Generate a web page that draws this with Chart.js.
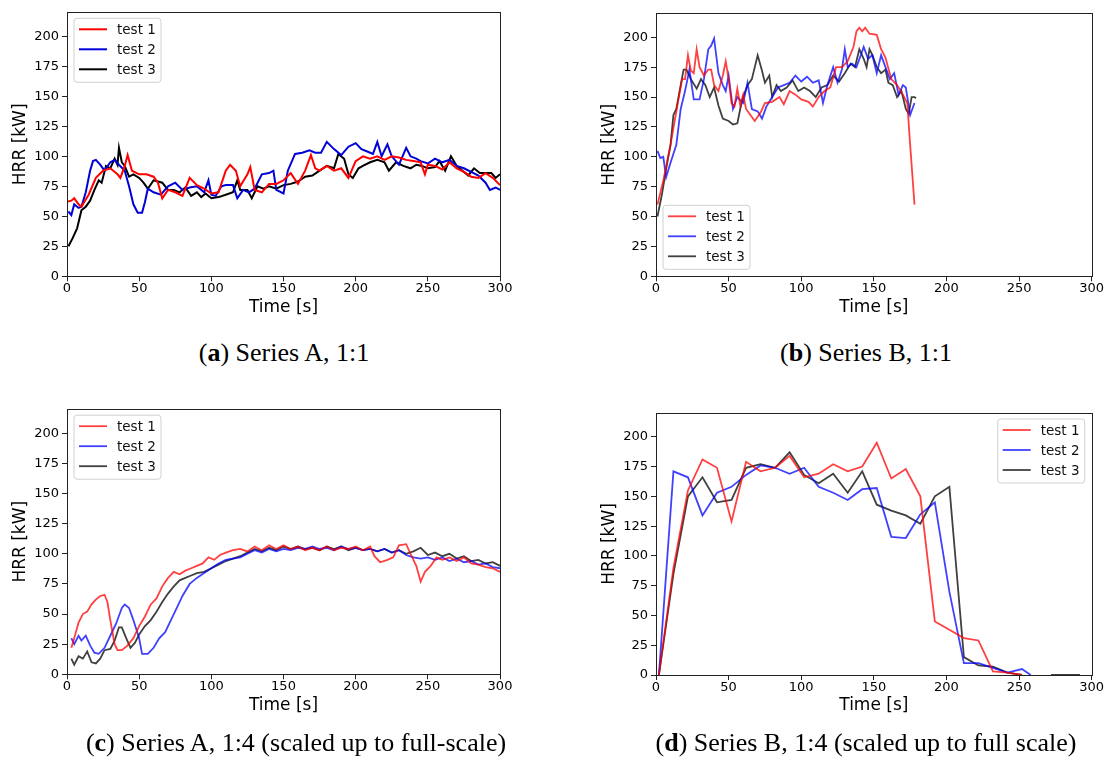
<!DOCTYPE html>
<html>
<head>
<meta charset="utf-8">
<script src="https://cdn.jsdelivr.net/npm/chart.js@4.4.0/dist/chart.umd.min.js"></script>
<style>
  html, body { margin:0; padding:0; background:#fff; }
  body { width:1107px; height:769px; position:relative; overflow:hidden; }
  canvas { position:absolute; }
  .cap { position:absolute; width:600px; text-align:center; font-family:'Liberation Serif', serif; font-size:26px; line-height:30px; color:#000; white-space:nowrap; }
</style>
</head>
<body>
<canvas id="ca" width="520" height="330" style="left:0px;top:0px"></canvas>
<canvas id="cb" width="520" height="330" style="left:589px;top:0px"></canvas>
<canvas id="cc" width="520" height="330" style="left:0px;top:398px"></canvas>
<canvas id="cd" width="520" height="330" style="left:589px;top:399px"></canvas>
<div class="cap" style="left:-16px;top:338px">(<b>a</b>) Series A, 1:1</div>
<div class="cap" style="left:566px;top:338px">(<b>b</b>) Series B, 1:1</div>
<div class="cap" style="left:-4px;top:728px">(<b>c</b>) Series A, 1:4 (scaled up to full-scale)</div>
<div class="cap" style="left:566px;top:728px">(<b>d</b>) Series B, 1:4 (scaled up to full scale)</div>
<script>
// ---------- DATA ----------
const seriesLabels = ['test 1', 'test 2', 'test 3'];
const xTicks = [0, 50, 100, 150, 200, 250, 300];
const yTicks = [0, 25, 50, 75, 100, 125, 150, 175, 200];

// (a) Series A, 1:1
const aT1 = [0,3,5,8,10,15,20,25,30,35,37,40,42,45,50,55,60,63,66,70,75,80,85,90,95,100,105,110,113,117,120,125,127,130,135,140,145,150,155,160,165,169,172,175,180,185,190,195,200,205,210,215,220,225,230,235,240,245,248,250,255,260,265,270,275,280,285,290,295,300];
const aY1 = [62,63,65,60,58,68,82,88,90,85,82,92,101,88,85,85,83,78,65,72,70,67,82,76,73,69,70,88,93,88,75,85,91,72,70,77,77,80,86,77,88,101,90,88,92,88,90,82,96,100,98,100,97,100,99,97,96,95,85,93,92,89,95,90,87,83,82,86,82,76];
const aT2 = [1,3,5,8,10,13,16,18,20,23,26,30,33,36,40,43,46,49,52,54,56,60,65,70,75,80,85,90,95,98,100,103,107,110,115,118,122,126,130,135,140,143,145,150,153,158,163,168,172,176,180,185,190,195,200,204,208,212,215,218,222,225,230,235,238,242,245,250,255,260,265,270,275,280,285,290,293,297,300];
const aY2 = [54,51,60,57,58,70,88,96,97,93,88,95,97,93,88,75,60,53,53,62,73,70,68,75,78,72,74,75,70,80,68,67,75,76,76,65,72,70,73,85,86,88,72,69,88,102,103,105,103,103,112,106,101,108,111,106,104,102,112,100,110,100,93,107,100,98,96,94,98,95,97,92,90,87,84,78,72,74,72];
const aT3 = [1,4,7,10,13,16,19,22,24,27,30,33,35,36,38,40,43,46,50,53,56,60,63,66,70,74,78,82,86,90,93,96,100,105,110,115,118,120,125,128,132,136,140,145,150,155,160,165,170,175,180,185,188,192,195,198,202,205,210,215,220,223,228,233,238,242,246,250,255,258,262,266,270,274,278,282,286,290,294,297,300];
const aY3 = [25,32,40,55,58,63,72,80,78,92,90,98,93,107,95,92,83,85,82,78,73,80,79,78,72,72,70,74,67,70,66,69,65,66,68,70,80,72,72,65,75,73,75,73,76,77,79,83,84,88,92,90,102,98,85,82,90,92,95,97,95,88,95,92,90,93,92,90,91,96,88,100,92,88,84,90,86,86,86,82,85];

// (b) Series B, 1:1
const bT1 = [1,5,10,15,18,20,22,24,26,28,30,33,36,38,40,43,46,48,50,52,54,56,58,60,62,65,68,72,75,80,85,88,92,96,100,105,108,112,116,120,124,128,132,136,138,140,142,144,147,152,155,158,162,166,170,173,175,178];
const bY1 = [60,80,110,145,165,165,185,172,170,190,175,168,173,173,160,155,168,180,165,145,142,157,143,152,140,135,130,137,145,146,150,144,155,152,148,146,142,150,155,158,175,175,180,192,205,208,205,208,203,202,190,183,165,160,152,145,110,60];
const bT2 = [1,3,5,7,10,14,17,20,23,26,30,33,36,38,40,43,46,48,50,53,56,60,63,66,70,73,76,80,84,88,92,96,100,104,108,112,115,118,122,125,128,130,132,135,138,141,143,146,149,152,155,158,161,164,167,170,172,175,178];
const bY2 = [105,99,100,83,95,110,140,155,173,148,148,165,190,193,199,170,160,155,168,140,150,145,162,140,138,132,142,150,158,160,162,168,163,167,162,164,145,160,175,162,173,190,175,178,175,185,192,182,185,170,185,175,165,170,152,160,158,135,145];
const bT3 = [1,4,7,10,12,14,17,19,21,24,28,31,34,37,40,43,46,50,53,56,58,60,63,66,70,73,75,78,80,83,86,90,94,98,102,106,110,114,118,122,126,130,134,137,140,143,145,147,149,152,155,158,160,163,166,169,172,174,176,178,179];
const bY3 = [50,68,90,110,135,140,160,173,173,165,157,165,160,150,158,143,132,130,127,128,140,150,160,165,185,172,162,168,150,160,155,158,164,155,158,155,150,158,160,168,163,170,178,175,190,182,175,190,185,175,170,173,162,160,150,155,140,136,150,150,149];

// (c) Series A, 1:4
const cT1 = [3,5,8,11,14,17,20,23,26,28,30,33,35,38,42,46,50,54,58,62,66,70,74,78,82,86,90,94,98,102,106,110,115,120,125,130,135,140,145,150,155,160,165,170,175,180,185,190,195,200,205,210,213,217,222,226,230,235,238,242,245,248,252,256,260,265,270,275,280,285,290,295,300];
const cY1 = [22,30,43,50,52,58,62,65,66,60,45,25,20,20,24,30,40,48,58,63,73,80,85,83,86,88,90,92,97,95,99,101,103,104,102,106,103,107,104,107,104,106,103,105,103,106,103,105,104,106,103,106,98,93,95,97,107,108,100,90,77,85,90,97,95,97,94,97,92,91,89,88,85];
const cT2 = [3,5,8,10,13,16,19,22,26,30,34,38,40,43,46,50,52,56,60,64,68,72,76,80,85,90,95,100,105,110,115,120,125,130,135,140,145,150,155,160,165,170,175,180,185,190,195,200,205,210,215,220,225,230,235,240,245,250,255,260,265,270,275,280,285,290,295,300];
const cY2 = [30,25,32,28,32,24,18,17,22,32,42,55,58,55,45,30,17,17,22,30,35,45,55,65,75,80,84,88,92,95,96,97,100,103,101,104,102,104,103,105,104,106,104,105,103,106,104,105,103,104,102,104,101,103,99,97,96,97,95,97,94,96,93,94,91,92,89,88];
const cT3 = [3,5,8,11,14,17,20,23,26,30,33,36,38,41,44,47,50,54,58,62,66,70,74,78,82,86,90,95,100,105,110,115,120,125,130,135,140,145,150,155,160,165,170,175,180,185,190,195,200,205,210,215,220,225,230,235,240,245,250,255,260,265,270,275,280,285,290,295,300];
const cY3 = [13,8,15,13,19,10,9,13,20,21,28,39,39,30,22,26,33,40,45,52,60,67,73,78,80,82,84,85,88,91,94,96,98,101,104,102,105,103,106,104,106,104,105,103,106,104,106,103,105,103,104,102,104,101,103,100,102,105,99,101,98,100,96,98,94,95,92,93,90];

// (d) Series B, 1:4
const dT1 = [2,12,22,32,42,52,62,72,82,92,102,112,122,132,142,152,162,172,182,192,202,212,222,232,242,252];
const dY1 = [0,90,155,181,174,129,179,171,174,184,166,169,177,171,175,195,165,173,150,45,38,31,29,3,2,0];
const dT2 = [2,12,22,32,42,52,62,72,82,92,102,112,122,132,142,152,162,172,182,192,202,212,222,232,242,252,258];
const dY2 = [0,171,166,134,153,158,168,176,174,169,174,158,153,147,156,157,116,115,135,145,70,10,10,6,2,5,0];
const dT3 = [2,12,22,32,42,52,62,72,82,92,102,112,122,132,142,152,162,172,182,192,202,212,222,232,242,252,262,272,282,292];
const dY3 = [0,85,150,166,145,147,174,177,174,187,168,161,169,153,171,143,138,134,127,150,158,15,8,7,2,0,null,0,0,0];

// ---------- STYLE / RENDER ----------
Chart.defaults.font.family = "'DejaVu Sans', sans-serif";
Chart.defaults.color = '#000';

const framePlugin = {
  id: 'frame',
  afterDatasetsDraw(chart) {
    const {ctx, chartArea: a} = chart;
    ctx.save();
    ctx.strokeStyle = '#222';
    ctx.lineWidth = 1;
    ctx.strokeRect(Math.round(a.left) + 0.5, Math.round(a.top) + 0.5,
                   Math.round(a.right - a.left), Math.round(a.bottom - a.top));
    ctx.restore();
  }
};

const legendPlugin = {
  id: 'innerLegend',
  afterDraw(chart, args, opts) {
    const {ctx, chartArea: a} = chart;
    const w = 87, h = 64, r = 3;
    const x = opts.pos.includes('l') ? a.left + 7 : a.right - 7 - w;
    const y = opts.pos.includes('u') ? a.top + 6 : a.bottom - 7 - h;
    ctx.save();
    ctx.beginPath();
    ctx.moveTo(x + r, y);
    ctx.arcTo(x + w, y, x + w, y + h, r);
    ctx.arcTo(x + w, y + h, x, y + h, r);
    ctx.arcTo(x, y + h, x, y, r);
    ctx.arcTo(x, y, x + w, y, r);
    ctx.closePath();
    ctx.fillStyle = 'rgba(255,255,255,0.85)';
    ctx.fill();
    ctx.strokeStyle = '#d0d0d0';
    ctx.lineWidth = 1;
    ctx.stroke();
    ctx.font = "13.5px 'DejaVu Sans'";
    ctx.textBaseline = 'middle';
    ctx.textAlign = 'left';
    chart.data.datasets.forEach((ds, i) => {
      const ly = y + 11 + i * 20;
      ctx.beginPath();
      ctx.moveTo(x + 5, ly);
      ctx.lineTo(x + 33, ly);
      ctx.strokeStyle = ds.borderColor;
      ctx.lineWidth = ds.borderWidth;
      ctx.stroke();
      ctx.fillStyle = '#111';
      ctx.fillText(ds.label, x + 43, ly + 1);
    });
    ctx.restore();
  }
};

function pts(T, Y) { return T.map((t, i) => ({x: t, y: Y[i]})); }

function makeChart(id, series, colors, lw, cfg) {
  new Chart(document.getElementById(id), {
    type: 'line',
    data: {
      datasets: series.map((s, i) => ({
        label: seriesLabels[i],
        data: pts(s[0], s[1]),
        borderColor: colors[i],
        backgroundColor: colors[i],
        borderWidth: lw,
        pointRadius: 0,
        tension: 0,
        spanGaps: false,
        fill: false
      }))
    },
    options: {
      responsive: false,
      animation: false,
      events: [],
      layout: { padding: { left: 0, top: cfg.top, right: cfg.right, bottom: 330 - 41 - cfg.bottom } },
      plugins: {
        legend: { display: false },
        tooltip: { enabled: false },
        innerLegend: { pos: cfg.legend }
      },
      scales: {
        x: {
          type: 'linear', min: 0, max: 300,
          afterBuildTicks: s => { s.ticks = xTicks.map(v => ({value: v})); },
          ticks: { font: { size: 13 }, padding: 0, maxRotation: 0, color: '#000' },
          grid: { drawOnChartArea: false, tickLength: 5, color: '#222' },
          border: { display: false },
          title: { display: true, text: 'Time [s]', font: { size: 17 }, color: '#000', padding: { top: 0, bottom: 0 } },
          afterFit: s => { s.height = 41; }
        },
        y: {
          type: 'linear', min: 0, max: 220,
          afterBuildTicks: s => { s.ticks = yTicks.map(v => ({value: v})); },
          ticks: { font: { size: 13 }, padding: 3, color: '#000' },
          grid: { drawOnChartArea: false, tickLength: 5, color: '#222' },
          border: { display: false },
          title: { display: true, text: 'HRR [kW]', font: { size: 17 }, color: '#000', padding: { top: 10.8, bottom: 0 } },
          afterFit: s => { s.width = 67; }
        }
      }
    },
    plugins: [framePlugin, legendPlugin]
  });
}

const solid = ['#ff0000', '#0000d8', '#000000'];
const faded = ['rgba(255,0,0,0.75)', 'rgba(0,0,255,0.75)', 'rgba(0,0,0,0.75)'];

makeChart('ca', [[aT1, aY1], [aT2, aY2], [aT3, aY3]], solid, 2, { top: 12.3, right: 20, bottom: 276.3, legend: 'ul' });
makeChart('cb', [[bT1, bY1], [bT2, bY2], [bT3, bY3]], faded, 1.8, { top: 13.4, right: 17.3, bottom: 276.3, legend: 'lr' });
makeChart('cc', [[cT1, cY1], [cT2, cY2], [cT3, cY3]], faded, 1.8, { top: 11.2, right: 20, bottom: 276.3, legend: 'ul' });
makeChart('cd', [[dT1, dY1], [dT2, dY2], [dT3, dY3]], faded, 1.8, { top: 14, right: 17.3, bottom: 276, legend: 'ur' });
</script>
</body>
</html>
